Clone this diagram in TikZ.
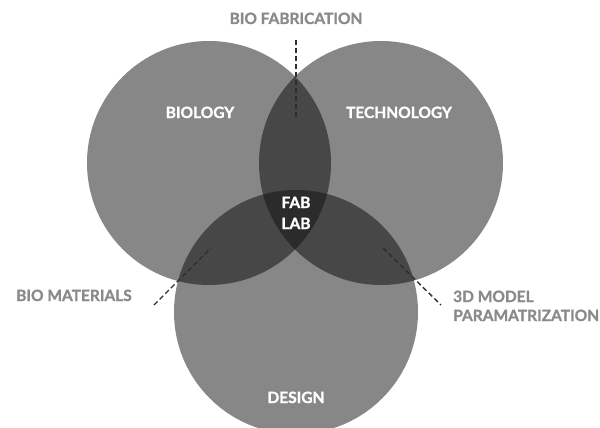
\documentclass[tikz,border=0pt]{standalone}
\usepackage{fontspec}
\setmainfont{Lato}[BoldFeatures={FakeBold=1.2}]
\definecolor{cgray}{HTML}{878787}
\definecolor{pgray}{HTML}{474747}
\definecolor{tgray}{HTML}{2B2B2B}
\definecolor{labgray}{HTML}{8A8A8A}
\definecolor{dashgray}{HTML}{2E2E2E}
\begin{document}
\begin{tikzpicture}[x=1pt,y=-1pt,
  lab/.style={font=\bfseries\fontsize{15.5}{20}\selectfont, text=white, inner sep=0pt, anchor=base},
  outlab/.style={lab, text=labgray},
  guide/.style={draw=dashgray, line width=1.4pt, dash pattern=on 5pt off 3pt}]
\useasboundingbox (0,0) rectangle (600,428);
\coordinate (cb) at (209,163);
\coordinate (ct) at (381,163);
\coordinate (cd) at (296,312);
% single circles
\fill[cgray] (cb) circle[radius=122pt];
\fill[cgray] (ct) circle[radius=122pt];
\fill[cgray] (cd) circle[radius=122pt];
% pairwise overlaps
\begin{scope}\clip (cb) circle[radius=122pt]; \fill[pgray] (ct) circle[radius=122pt]; \fill[pgray] (cd) circle[radius=122pt];\end{scope}
\begin{scope}\clip (ct) circle[radius=122pt]; \fill[pgray] (cd) circle[radius=122pt];\end{scope}
% triple overlap
\begin{scope}\clip (cb) circle[radius=122pt]; \clip (ct) circle[radius=122pt]; \fill[tgray] (cd) circle[radius=122pt];\end{scope}
% dashed guides
\coordinate (bfa) at (296,40);
\coordinate (bfb) at (296,119);
\coordinate (bma) at (154,305);
\coordinate (bmb) at (211,248);
\coordinate (mpa) at (383,248);
\coordinate (mpb) at (441,305);
\draw[guide] (bfa) -- (bfb);
\draw[guide] (bma) -- (bmb);
\draw[guide] (mpa) -- (mpb);
% labels
\node[outlab] (biofab) at (296,24) {BIO FABRICATION};
\node[lab] (bio) at (200,118) {BIOLOGY};
\node[lab] (tech) at (399,118) {TECHNOLOGY};
\node[lab] (fab) at (296,208) {FAB};
\node[lab] (lab) at (296,229) {LAB};
\node[outlab] (biomat) at (74,301) {BIO MATERIALS};
\node[outlab, anchor=base west] (model) at (453,302) {3D MODEL};
\node[outlab, anchor=base west] (param) at (453,321) {PARAMATRIZATION};
\node[lab] (design) at (296,403) {DESIGN};
\end{tikzpicture}
\end{document}
